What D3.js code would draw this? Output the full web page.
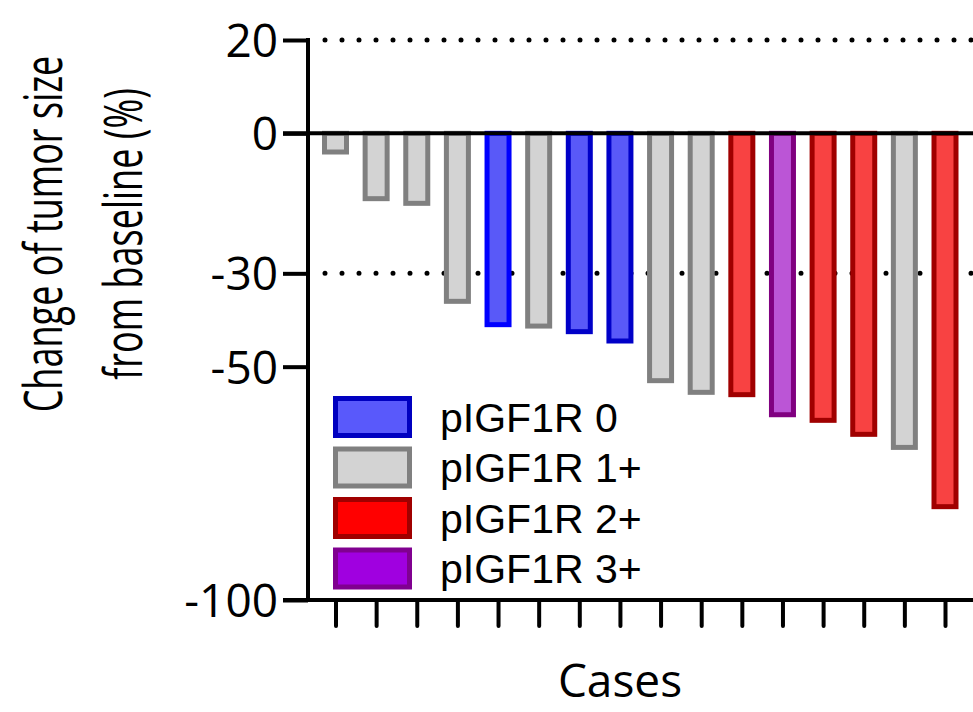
<!DOCTYPE html>
<html>
<head>
<meta charset="utf-8">
<script src="https://cdn.jsdelivr.net/npm/d3@7"></script>
<style>
  html, body { margin: 0; padding: 0; background: #fff; }
  svg { display: block; }
</style>
</head>
<body>
<svg id="chart" width="973" height="712"></svg>
<script>
// ---------- data ----------
const cases = ["1","2","3","4","5","6","7","8","9","10","11","12","13","14","15","16"];
const changes = [-4, -14, -15, -36, -41, -41.3, -42.5, -44.5, -53, -55.5, -56, -60.3, -61.5, -64.5, -67.3, -80];
const groups = ["1+","1+","1+","1+","0","1+","0","0","1+","1+","2+","3+","2+","2+","1+","2+"];
const legendGroups = ["0", "1+", "2+", "3+"];
const legendLabels = ["pIGF1R 0", "pIGF1R 1+", "pIGF1R 2+", "pIGF1R 3+"];
const yTicks = [20, 0, -30, -50, -100];
const refLines = [20, -30];

// ---------- styles ----------
const barFill   = {"0": "#5959f8", "1+": "#d3d3d3", "2+": "#f84242", "3+": "#bb55d6"};
const barStroke = {"0": "#0000c8", "1+": "#808080", "2+": "#a00000", "3+": "#800080"};
const legFill   = {"0": "#5959fb", "1+": "#d3d3d3", "2+": "#ff0000", "3+": "#a000e0"};
const legStroke = {"0": "#0000c0", "1+": "#808080", "2+": "#a00000", "3+": "#800090"};

const svg = d3.select("#chart");
const axisX = 308, axisBottom = 600;

const y = d3.scaleLinear().domain([-100, 20]).range([600, 40]);
const x = d3.scalePoint().domain(cases).range([335.5, 945]);

const numFont = "'Open Sans', 'Noto Sans', sans-serif";

// reference dotted lines
svg.selectAll("line.ref").data(refLines).enter().append("line")
  .attr("class", "ref")
  .attr("x1", 325).attr("x2", 973)
  .attr("y1", d => y(d)).attr("y2", d => y(d))
  .attr("stroke", "#000").attr("stroke-width", 5)
  .attr("stroke-linecap", "round")
  .attr("stroke-dasharray", "0 17");

// bars
const bw = 22;
svg.selectAll("rect.bar").data(changes).enter().append("rect")
  .attr("class", "bar")
  .attr("x", (d, i) => x(cases[i]) - bw / 2)
  .attr("y", y(0))
  .attr("width", bw)
  .attr("height", d => y(d) - y(0))
  .attr("fill", (d, i) => barFill[groups[i]])
  .attr("stroke", (d, i) => i === 4 ? "#0000ff" : barStroke[groups[i]])
  .attr("stroke-width", 5);

// zero line
svg.append("line")
  .attr("x1", 283).attr("x2", 973)
  .attr("y1", y(0)).attr("y2", y(0))
  .attr("stroke", "#000").attr("stroke-width", 4);

// y axis
const yAxis = d3.axisLeft(y).tickValues(yTicks).tickSize(25).tickPadding(5)
  .tickFormat(d => String(d));
const gy = svg.append("g").attr("transform", `translate(${axisX},0)`).call(yAxis);
gy.select(".domain").attr("stroke", "#000").attr("stroke-width", 4)
  .attr("d", `M0,${y(20) - 2}V${axisBottom}`);
gy.selectAll(".tick line").attr("stroke", "#000").attr("stroke-width", 4);
gy.selectAll(".tick text")
  .attr("font-family", numFont).attr("font-size", 46)
  .attr("fill", "#000").attr("dy", "0.36em");

// x axis
const xAxis = d3.axisBottom(x).tickSize(26).tickFormat("");
const gx = svg.append("g").attr("transform", `translate(0,${axisBottom})`).call(xAxis);
gx.select(".domain").attr("stroke", "#000").attr("stroke-width", 4)
  .attr("d", `M283,0H973`);
gx.selectAll(".tick line").attr("stroke", "#000").attr("stroke-width", 4)
  .attr("stroke-linecap", "round");

// x title
svg.append("text")
  .attr("x", 620).attr("y", 697)
  .attr("text-anchor", "middle")
  .attr("font-family", numFont).attr("font-size", 46)
  .attr("fill", "#000")
  .text("Cases");

// y title (two lines)
const yTitle = ["Change of tumor size", "from baseline (%)"];
svg.selectAll("text.ytitle").data(yTitle).enter().append("text")
  .attr("class", "ytitle")
  .attr("transform", (d, i) => `translate(${i === 0 ? 62 : 142},234) rotate(-90) scale(0.68,1)`)
  .attr("text-anchor", "middle")
  .attr("font-family", numFont).attr("font-size", 53)
  .attr("fill", "#000")
  .text(d => d);

// legend
const leg = svg.append("g");
legendGroups.forEach((g, i) => {
  const top = 398.5 + i * 50.5;
  leg.append("rect")
    .attr("x", 335.5).attr("y", top)
    .attr("width", 74).attr("height", 37)
    .attr("fill", legFill[g]).attr("stroke", legStroke[g]).attr("stroke-width", 5);
  leg.append("text")
    .attr("x", 440).attr("y", top + 18.5)
    .attr("dy", "0.36em")
    .attr("font-family", "'Liberation Sans', Arial, sans-serif")
    .attr("font-size", 41)
    .attr("fill", "#000")
    .text(legendLabels[i]);
});
</script>
</body>
</html>
